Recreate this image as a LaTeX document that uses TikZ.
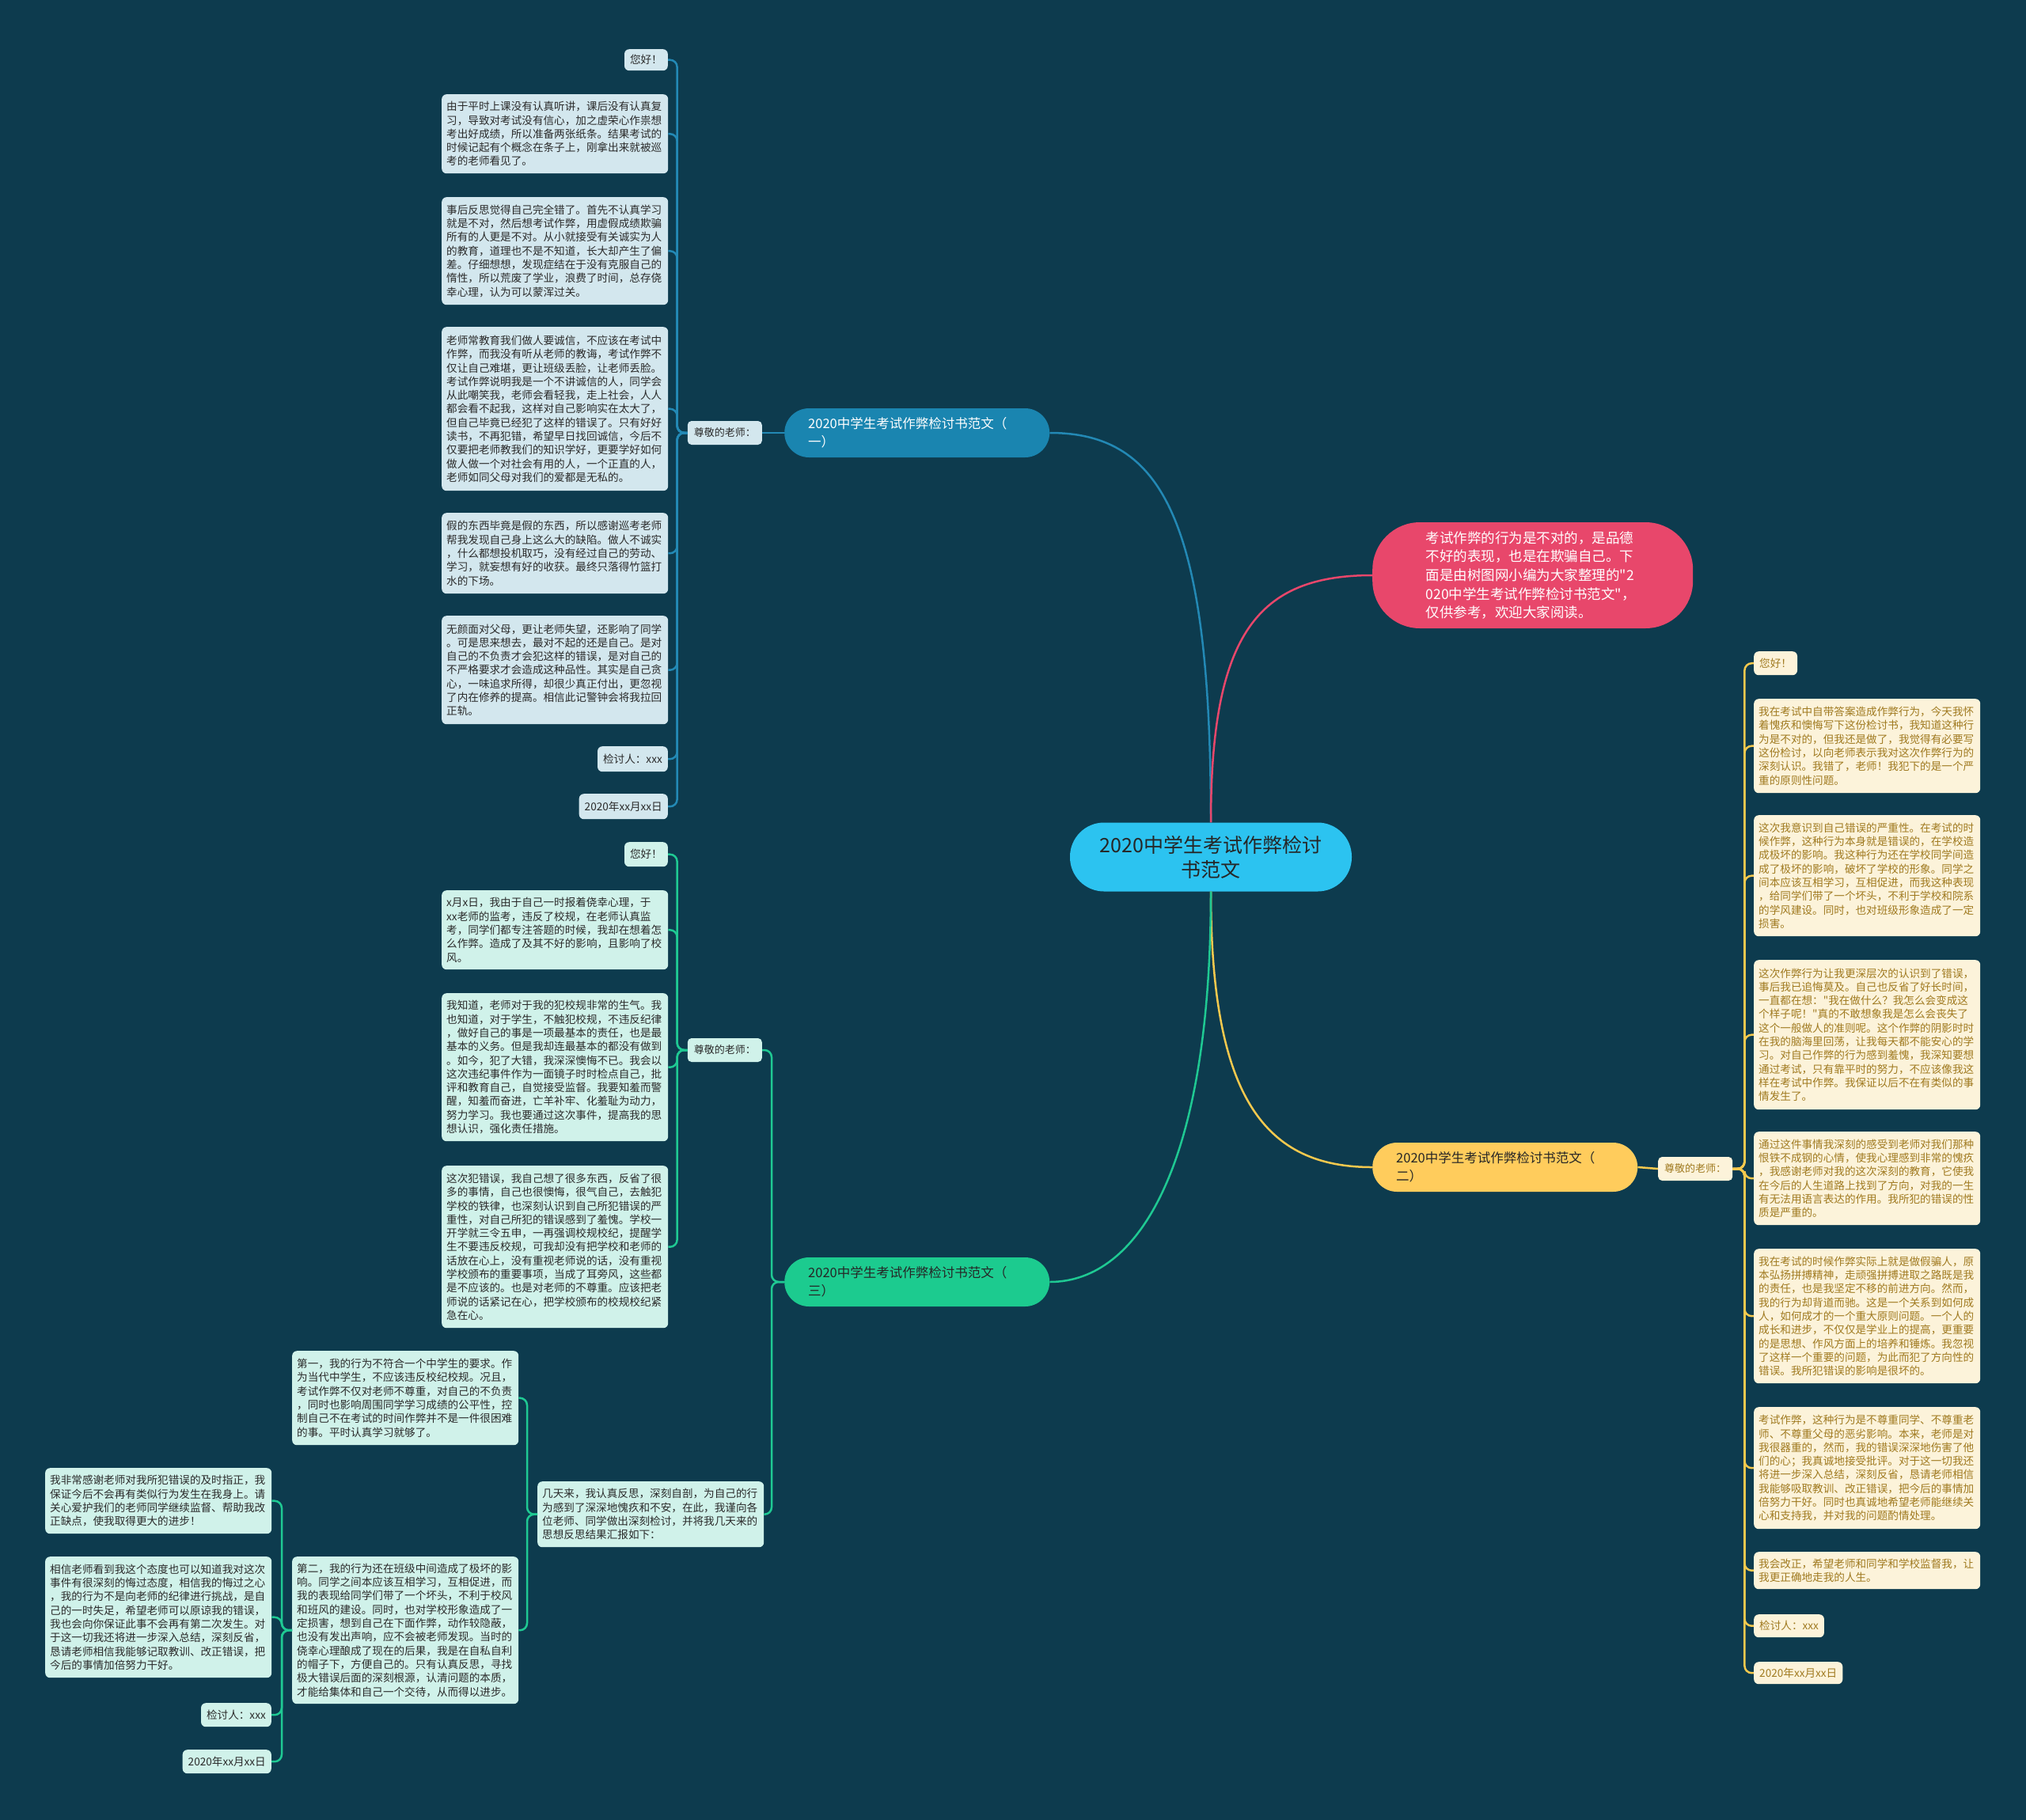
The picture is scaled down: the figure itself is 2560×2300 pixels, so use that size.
\documentclass[tikz,border=0pt]{standalone}
\usepackage{fontspec}
\newfontfamily\cjk{Noto Sans CJK SC}
\definecolor{bgc}{HTML}{0D3B4E}
\definecolor{cblue}{HTML}{1A85B0}
\definecolor{cred}{HTML}{E8476B}
\definecolor{cyel}{HTML}{FFCC5C}
\definecolor{cgrn}{HTML}{1CCB8F}
\definecolor{ccen}{HTML}{2CC3F0}
\definecolor{fblue}{HTML}{D3E7EE}
\definecolor{fmint}{HTML}{D0F2EA}
\definecolor{fcream}{HTML}{FCF3DA}
\definecolor{tdark}{HTML}{2A2A2A}
\definecolor{tgold}{HTML}{A07A20}
\definecolor{lblue}{HTML}{2389B5}
\definecolor{lgrn}{HTML}{1FC993}
\definecolor{lyel}{HTML}{F5C94E}
\tikzset{
  leaftxt/.style={font=\cjk\fontsize{13.6}{17.3}\selectfont},
  leaf/.style={leaftxt, rounded corners=6, inner xsep=6, inner ysep=3, align=left, text width=274, anchor=north west},
  tag/.style={leaftxt, rounded corners=6, inner xsep=7, inner ysep=3},
  bluebox/.style={fill=fblue, text=tdark},
  mintbox/.style={fill=fmint, text=tdark},
  creambox/.style={fill=fcream, text=tgold},
  branch/.style={font=\cjk\fontsize{16.5}{23}\selectfont, rounded corners=31, minimum height=62, inner xsep=30, text width=275, align=left, anchor=west},
  lbl/.style={font=\cjk\fontsize{13}{16}\selectfont, rounded corners=5, minimum height=30, inner xsep=8, inner ysep=2},
  con/.style={line width=2.5, rounded corners=9},
}
\begin{document}
\begin{tikzpicture}[x=1pt,y=-1pt]
\fill[bgc] (0,0) rectangle (2560,2300);
\useasboundingbox (0,0) rectangle (2560,2300);

% center and main branches
\node[fill=ccen, text=black!85, rounded corners=43, minimum width=356, minimum height=87, align=center, font=\cjk\fontsize{25}{31}\selectfont] (c) at (1530,1083) {2020中学生考试作弊检讨\\书范文};
\node[fill=cred, text=white, rounded corners=60, minimum width=405, minimum height=134, text width=270, inner xsep=67, align=left, anchor=west, font=\cjk\fontsize{17.5}{23.7}\selectfont] (red) at (1734,727) {考试作弊的行为是不对的，是品德\\不好的表现，也是在欺骗自己。下\\面是由树图网小编为大家整理的"2\\020中学生考试作弊检讨书范文"，\\仅供参考，欢迎大家阅读。};
\node[branch, fill=cblue, text=white] (b1) at (991,547) {2020中学生考试作弊检讨书范文（\\一）};
\node[branch, fill=cyel, text=black!85] (b2) at (1734,1475) {2020中学生考试作弊检讨书范文（\\二）};
\node[branch, fill=cgrn, text=black!85] (b3) at (991,1620) {2020中学生考试作弊检讨书范文（\\三）};

\draw[line width=2.5, lblue] (c.north) .. controls (1530,660) and (1470,547) .. (b1.east);
\draw[line width=2.5, cred] (c.north) .. controls (1530,800) and (1590,727) .. (red.west);
\draw[line width=2.5, lyel] (c.south) .. controls (1530,1390) and (1600,1475) .. (b2.west);
\draw[line width=2.5, lgrn] (c.south) .. controls (1530,1470) and (1440,1620) .. (b3.east);

% ---------- branch 1 ----------
\node[lbl, fill=fblue, text=tdark, anchor=east] (s1) at (963,547) {尊敬的老师：};
\draw[con, lblue] (b1.west) -- (s1.east);

\node[tag, bluebox, anchor=north east, minimum height=27] (n1a) at (844,62) {您好！};
\node[leaf, bluebox, minimum height=100] (n1b) at (558,119) {由于平时上课没有认真听讲，课后没有认真复\\
习，导致对考试没有信心，加之虚荣心作祟想\\
考出好成绩，所以准备两张纸条。结果考试的\\
时候记起有个概念在条子上，刚拿出来就被巡\\
考的老师看见了。};
\node[leaf, bluebox, minimum height=136] (n1c) at (558,249) {事后反思觉得自己完全错了。首先不认真学习\\
就是不对，然后想考试作弊，用虚假成绩欺骗\\
所有的人更是不对。从小就接受有关诚实为人\\
的教育，道理也不是不知道，长大却产生了偏\\
差。仔细想想，发现症结在于没有克服自己的\\
惰性，所以荒废了学业，浪费了时间，总存侥\\
幸心理，认为可以蒙浑过关。};
\node[leaf, bluebox, minimum height=207] (n1d) at (558,413) {老师常教育我们做人要诚信，不应该在考试中\\
作弊，而我没有听从老师的教诲，考试作弊不\\
仅让自己难堪，更让班级丢脸，让老师丢脸。\\
考试作弊说明我是一个不讲诚信的人，同学会\\
从此嘲笑我，老师会看轻我，走上社会，人人\\
都会看不起我，这样对自己影响实在太大了，\\
但自己毕竟已经犯了这样的错误了。只有好好\\
读书，不再犯错，希望早日找回诚信，今后不\\
仅要把老师教我们的知识学好，更要学好如何\\
做人做一个对社会有用的人，一个正直的人，\\
老师如同父母对我们的爱都是无私的。};
\node[leaf, bluebox, minimum height=102] (n1e) at (558,648) {假的东西毕竟是假的东西，所以感谢巡考老师\\
帮我发现自己身上这么大的缺陷。做人不诚实\\
，什么都想投机取巧，没有经过自己的劳动、\\
学习，就妄想有好的收获。最终只落得竹篮打\\
水的下场。};
\node[leaf, bluebox, minimum height=137] (n1f) at (558,778) {无颜面对父母，更让老师失望，还影响了同学\\
。可是思来想去，最对不起的还是自己。是对\\
自己的不负责才会犯这样的错误，是对自己的\\
不严格要求才会造成这种品性。其实是自己贪\\
心，一味追求所得，却很少真正付出，更忽视\\
了内在修养的提高。相信此记警钟会将我拉回\\
正轨。};
\node[tag, bluebox, anchor=north east, minimum height=32] (n1g) at (844,943) {检讨人：xxx};
\node[tag, bluebox, anchor=north east, minimum height=32] (n1h) at (844,1003) {2020年xx月xx日};
\foreach \n in {n1a,n1b,n1c,n1d,n1e,n1f,n1g,n1h}
  \draw[con, lblue] (s1.west) -- ++(-13,0) |- (\n.east);

% ---------- branch 3 ----------
\node[lbl, fill=fmint, text=tdark, anchor=east] (s3) at (963,1327) {尊敬的老师：};
\node[tag, mintbox, anchor=north east, minimum height=31] (n3a) at (844,1064) {您好！};
\node[leaf, mintbox, minimum height=100] (n3b) at (558,1125) {x月x日，我由于自己一时报着侥幸心理，于\\
xx老师的监考，违反了校规，在老师认真监\\
考，同学们都专注答题的时候，我却在想着怎\\
么作弊。造成了及其不好的影响，且影响了校\\
风。};
\node[leaf, mintbox, minimum height=187] (n3c) at (558,1255) {我知道，老师对于我的犯校规非常的生气。我\\
也知道，对于学生，不触犯校规，不违反纪律\\
，做好自己的事是一项最基本的责任，也是最\\
基本的义务。但是我却连最基本的都没有做到\\
。如今，犯了大错，我深深懊悔不已。我会以\\
这次违纪事件作为一面镜子时时检点自己，批\\
评和教育自己，自觉接受监督。我要知羞而警\\
醒，知羞而奋进，亡羊补牢、化羞耻为动力，\\
努力学习。我也要通过这次事件，提高我的思\\
想认识，强化责任措施。};
\node[leaf, mintbox, minimum height=205] (n3d) at (558,1473) {这次犯错误，我自己想了很多东西，反省了很\\
多的事情，自己也很懊悔，很气自己，去触犯\\
学校的铁律，也深刻认识到自己所犯错误的严\\
重性，对自己所犯的错误感到了羞愧。学校一\\
开学就三令五申，一再强调校规校纪，提醒学\\
生不要违反校规，可我却没有把学校和老师的\\
话放在心上，没有重视老师说的话，没有重视\\
学校颁布的重要事项，当成了耳旁风，这些都\\
是不应该的。也是对老师的不尊重。应该把老\\
师说的话紧记在心，把学校颁布的校规校纪紧\\
急在心。};
\foreach \n in {n3a,n3b,n3c,n3d}
  \draw[con, lgrn] (s3.west) -- ++(-13,0) |- (\n.east);

\node[leaf, mintbox, minimum height=83] (j) at (679,1872) {几天来，我认真反思，深刻自剖，为自己的行\\
为感到了深深地愧疚和不安，在此，我谨向各\\
位老师、同学做出深刻检讨，并将我几天来的\\
思想反思结果汇报如下：};
\draw[con, lgrn] (b3.west) -- ++(-16,0) |- (s3.east);
\draw[con, lgrn] (b3.west) -- ++(-16,0) |- (j.east);

\node[leaf, mintbox, minimum height=119] (f1) at (369,1707) {第一，我的行为不符合一个中学生的要求。作\\
为当代中学生，不应该违反校纪校规。况且，\\
考试作弊不仅对老师不尊重，对自己的不负责\\
，同时也影响周围同学学习成绩的公平性，控\\
制自己不在考试的时间作弊并不是一件很困难\\
的事。平时认真学习就够了。};
\node[leaf, mintbox, minimum height=186] (f2) at (369,1967) {第二，我的行为还在班级中间造成了极坏的影\\
响。同学之间本应该互相学习，互相促进，而\\
我的表现给同学们带了一个坏头，不利于校风\\
和班风的建设。同时，也对学校形象造成了一\\
定损害，想到自己在下面作弊，动作较隐蔽，\\
也没有发出声响，应不会被老师发现。当时的\\
侥幸心理酿成了现在的后果，我是在自私自利\\
的帽子下，方便自己的。只有认真反思，寻找\\
极大错误后面的深刻根源，认清问题的本质，\\
才能给集体和自己一个交待，从而得以进步。};
\foreach \n in {f1,f2}
  \draw[con, lgrn] (j.west) -- ++(-13,0) |- (\n.east);

\node[leaf, mintbox, minimum height=83] (g1) at (57,1855) {我非常感谢老师对我所犯错误的及时指正，我\\
保证今后不会再有类似行为发生在我身上。请\\
关心爱护我们的老师同学继续监督、帮助我改\\
正缺点，使我取得更大的进步！};
\node[leaf, mintbox, minimum height=153] (g2) at (57,1967) {相信老师看到我这个态度也可以知道我对这次\\
事件有很深刻的悔过态度，相信我的悔过之心\\
，我的行为不是向老师的纪律进行挑战，是自\\
己的一时失足，希望老师可以原谅我的错误，\\
我也会向你保证此事不会再有第二次发生。对\\
于这一切我还将进一步深入总结，深刻反省，\\
恳请老师相信我能够记取教训、改正错误，把\\
今后的事情加倍努力干好。};
\node[tag, mintbox, anchor=north east, minimum height=30] (g3) at (343,2152) {检讨人：xxx};
\node[tag, mintbox, anchor=north east, minimum height=30] (g4) at (343,2211) {2020年xx月xx日};
\foreach \n in {g1,g2,g3,g4}
  \draw[con, lgrn] (f2.west) -- ++(-13,0) |- (\n.east);

% ---------- branch 2 ----------
\node[lbl, fill=fcream, text=tgold, anchor=west] (s2) at (2095,1477) {尊敬的老师：};
\draw[con, lyel] (b2.east) -- (s2.west);

\node[tag, creambox, anchor=north west, minimum height=30] (n2a) at (2216,823) {您好！};
\node[leaf, creambox, minimum height=119] (n2b) at (2216,883) {我在考试中自带答案造成作弊行为，今天我怀\\
着愧疚和懊悔写下这份检讨书，我知道这种行\\
为是不对的，但我还是做了，我觉得有必要写\\
这份检讨，以向老师表示我对这次作弊行为的\\
深刻认识。我错了，老师！我犯下的是一个严\\
重的原则性问题。};
\node[leaf, creambox, minimum height=153] (n2c) at (2216,1030) {这次我意识到自己错误的严重性。在考试的时\\
候作弊，这种行为本身就是错误的，在学校造\\
成极坏的影响。我这种行为还在学校同学间造\\
成了极坏的影响，破坏了学校的形象。同学之\\
间本应该互相学习，互相促进，而我这种表现\\
，给同学们带了一个坏头，不利于学校和院系\\
的学风建设。同时，也对班级形象造成了一定\\
损害。};
\node[leaf, creambox, minimum height=189] (n2d) at (2216,1213) {这次作弊行为让我更深层次的认识到了错误，\\
事后我已追悔莫及。自己也反省了好长时间，\\
一直都在想："我在做什么？我怎么会变成这\\
个样子呢！"真的不敢想象我是怎么会丧失了\\
这个一般做人的准则呢。这个作弊的阴影时时\\
在我的脑海里回荡，让我每天都不能安心的学\\
习。对自己作弊的行为感到羞愧，我深知要想\\
通过考试，只有靠平时的努力，不应该像我这\\
样在考试中作弊。我保证以后不在有类似的事\\
情发生了。};
\node[leaf, creambox, minimum height=118] (n2e) at (2216,1430) {通过这件事情我深刻的感受到老师对我们那种\\
恨铁不成钢的心情，使我心理感到非常的愧疚\\
，我感谢老师对我的这次深刻的教育，它使我\\
在今后的人生道路上找到了方向，对我的一生\\
有无法用语言表达的作用。我所犯的错误的性\\
质是严重的。};
\node[leaf, creambox, minimum height=170] (n2f) at (2216,1578) {我在考试的时候作弊实际上就是做假骗人，原\\
本弘扬拼搏精神，走顽强拼搏进取之路既是我\\
的责任，也是我坚定不移的前进方向。然而，\\
我的行为却背道而驰。这是一个关系到如何成\\
人，如何成才的一个重大原则问题。一个人的\\
成长和进步，不仅仅是学业上的提高，更重要\\
的是思想、作风方面上的培养和锤炼。我忽视\\
了这样一个重要的问题，为此而犯了方向性的\\
错误。我所犯错误的影响是很坏的。};
\node[leaf, creambox, minimum height=154] (n2g) at (2216,1778) {考试作弊，这种行为是不尊重同学、不尊重老\\
师、不尊重父母的恶劣影响。本来，老师是对\\
我很器重的，然而，我的错误深深地伤害了他\\
们的心；我真诚地接受批评。对于这一切我还\\
将进一步深入总结，深刻反省，恳请老师相信\\
我能够吸取教训、改正错误，把今后的事情加\\
倍努力干好。同时也真诚地希望老师能继续关\\
心和支持我，并对我的问题酌情处理。};
\node[leaf, creambox, minimum height=47] (n2h) at (2216,1961) {我会改正，希望老师和同学和学校监督我，让\\
我更正确地走我的人生。};
\node[tag, creambox, anchor=north west, minimum height=29] (n2i) at (2216,2040) {检讨人：xxx};
\node[tag, creambox, anchor=north west, minimum height=28] (n2j) at (2216,2100) {2020年xx月xx日};
\foreach \n in {n2a,n2b,n2c,n2d,n2e,n2f,n2g,n2h,n2i,n2j}
  \draw[con, lyel] (s2.east) -- ++(15,0) |- (\n.west);
\end{tikzpicture}
\end{document}
